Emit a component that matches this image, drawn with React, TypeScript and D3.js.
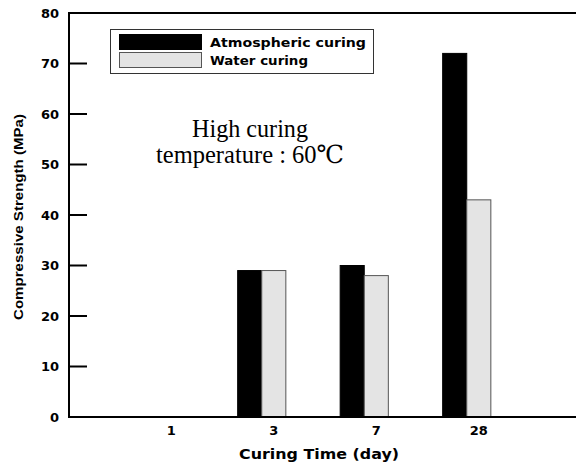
import { useMemo } from 'react'
import * as d3 from 'd3'

const DAYS = ['1', '3', '7', '28']
const ATMOSPHERIC = [0, 29, 30, 72]
const WATER = [0, 29, 28, 43]
const Y_TICKS = [0, 10, 20, 30, 40, 50, 60, 70, 80]
const SERIES = [
  { label: 'Atmospheric curing', values: ATMOSPHERIC, fill: '#000000', stroke: '#000000', len: 156 },
  { label: 'Water curing', values: WATER, fill: '#e4e4e4', stroke: '#555555', len: 98 },
]

const W = 576
const H = 464
const LEFT = 69
const TOP = 13
const BOTTOM = 417
const SANS = "'DejaVu Sans', 'Liberation Sans', Arial, sans-serif"
const SERIF = "'Liberation Serif', 'DejaVu Serif', serif"

export default function App() {
  const y = useMemo(() => d3.scaleLinear().domain([0, 80]).range([BOTTOM, TOP]), [])
  const x = useMemo(
    () => d3.scaleBand<string>().domain(DAYS).range([108, 518]).paddingInner(0.53).paddingOuter(0.265),
    []
  )
  const sub = useMemo(
    () => d3.scaleBand<number>().domain([0, 1]).range([0, x.bandwidth()]),
    [x]
  )

  return (
    <svg width={W} height={H} style={{ position: 'absolute', left: 0, top: 0, background: '#fff' }}>
      {/* bars */}
      {DAYS.map((day, i) => (
        <g key={day} transform={`translate(${x(day)},0)`}>
          {SERIES.map((s, j) =>
            s.values[i] > 0 ? (
              <rect
                key={s.label}
                x={sub(j)}
                y={y(s.values[i])}
                width={sub.bandwidth()}
                height={BOTTOM - y(s.values[i])}
                fill={s.fill}
                stroke={s.stroke}
                strokeWidth={1}
              />
            ) : null
          )}
        </g>
      ))}

      {/* frame */}
      <line x1={LEFT} x2={W} y1={TOP} y2={TOP} stroke="#000" strokeWidth={2} />
      <line x1={LEFT} x2={LEFT} y1={TOP - 1} y2={BOTTOM + 1} stroke="#000" strokeWidth={2} />
      <line x1={LEFT - 1} x2={W} y1={BOTTOM} y2={BOTTOM} stroke="#000" strokeWidth={2} />

      {/* y ticks */}
      {Y_TICKS.map((t) => (
        <g key={t}>
          {t > 0 && t < 80 && (
            <line x1={LEFT} x2={LEFT + 18} y1={y(t)} y2={y(t)} stroke="#000" strokeWidth={2} />
          )}
          <text
            x={59}
            y={y(t)}
            dy="0.36em"
            textAnchor="end"
            fontFamily={SANS}
            fontWeight="bold"
            fontSize={13}
          >
            {t}
          </text>
        </g>
      ))}

      {/* x labels */}
      {DAYS.map((day) => (
        <text
          key={day}
          x={(x(day) ?? 0) + x.bandwidth() * 0.75}
          y={435}
          textAnchor="middle"
          fontFamily={SANS}
          fontWeight="bold"
          fontSize={13}
        >
          {day}
        </text>
      ))}

      <text
        x={319}
        y={459}
        textAnchor="middle"
        fontFamily={SANS}
        fontWeight="bold"
        fontSize={14}
        textLength={160}
        lengthAdjust="spacingAndGlyphs"
      >
        Curing Time (day)
      </text>
      <text
        transform={`translate(23,${(TOP + BOTTOM) / 2 + 2}) rotate(-90)`}
        textAnchor="middle"
        fontFamily="'Liberation Sans', Arial, sans-serif"
        fontWeight="bold"
        fontSize={13}
        textLength={206}
        lengthAdjust="spacingAndGlyphs"
      >
        Compressive Strength (MPa)
      </text>

      {/* legend */}
      <rect x={110.5} y={29.5} width={263} height={44} fill="#fff" stroke="#333" strokeWidth={1} />
      {SERIES.map((s, j) => (
        <g key={s.label} transform={`translate(119,${34 + j * 18})`}>
          <rect x={0.5} y={0.5} width={82} height={15} fill={s.fill} stroke={s.stroke} />
          <text
            x={91}
            y={12.5}
            fontFamily={SANS}
            fontWeight="bold"
            fontSize={13}
            textLength={s.len}
            lengthAdjust="spacingAndGlyphs"
          >
            {s.label}
          </text>
        </g>
      ))}

      {/* annotation */}
      <text x={250} y={137} textAnchor="middle" fontFamily={SERIF} fontSize={25} textLength={116} lengthAdjust="spacingAndGlyphs">
        High curing
      </text>
      <text x={250} y={163} textAnchor="middle" fontFamily={SERIF} fontSize={25} textLength={188} lengthAdjust="spacingAndGlyphs">
        temperature : 60℃
      </text>
    </svg>
  )
}
